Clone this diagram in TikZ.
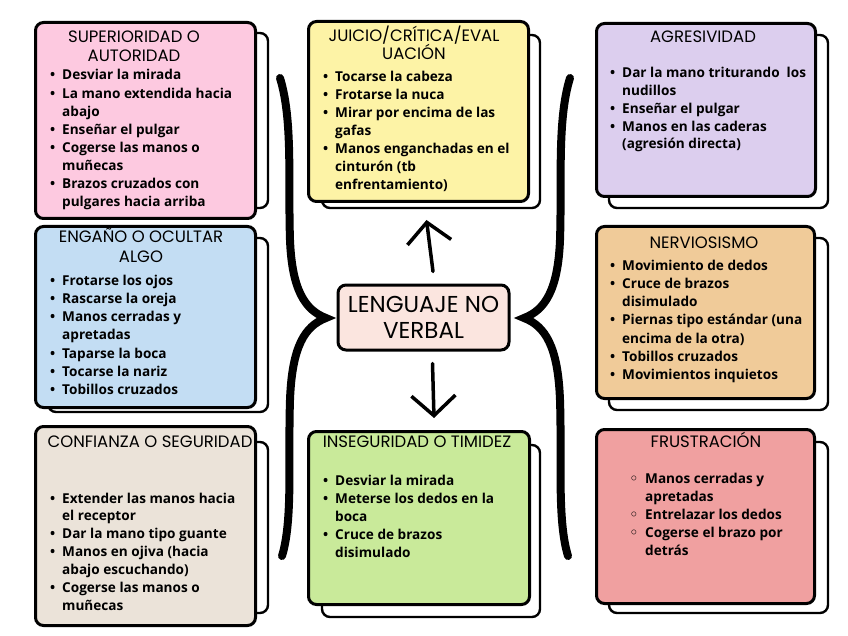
\documentclass[tikz,border=0pt]{standalone}
\usepackage{fontspec}
\setmainfont{Open Sans}
\newfontfamily\headfont{Poppins}
\newfontfamily\symfont{DejaVu Sans}
\usetikzlibrary{arrows.meta,calc}
\definecolor{pinkcard}{HTML}{FDC9E0}
\definecolor{bluecard}{HTML}{C3DDF3}
\definecolor{beigecard}{HTML}{EBE3D9}
\definecolor{yellowcard}{HTML}{FDF3A6}
\definecolor{greencard}{HTML}{C9EA9A}
\definecolor{purplecard}{HTML}{DCCEEE}
\definecolor{orangecard}{HTML}{F0CB99}
\definecolor{redcard}{HTML}{F0A0A0}
\definecolor{centrecard}{HTML}{FBE5DF}
\newcommand{\bul}{\llap{\textbullet\hspace{7pt}}}
\newcommand{\hol}{\llap{{\symfont\char"25E6}\hspace{7pt}}}

\begin{document}
\begin{tikzpicture}[
  x=1pt, y=-1pt,
  card/.style={draw=black, line width=3pt, rounded corners=8pt,
    anchor=north west, inner sep=0pt},
  backcard/.style={draw=black, line width=2.4pt, rounded corners=8pt, fill=white},
  heading/.style={anchor=base, inner sep=0pt,
    font=\headfont\fontsize{16.5}{18}\selectfont},
  itemline/.style={anchor=base west, inner sep=0pt,
    font=\bfseries\fontsize{13.6}{15}\selectfont},
  brace/.style={line width=8pt, line cap=round},
  pointer/.style={line width=3.5pt, line cap=round,
    -{Straight Barb[length=20pt,width=44pt]}}
]
\useasboundingbox (0,0) rectangle (848,636);

% back sheets first, then the coloured cards on top
\draw[backcard] (48,33) rectangle (268,208);
\draw[backcard] (48,238) rectangle (268,412);
\draw[backcard] (48,442) rectangle (268,613);
\draw[backcard] (322,35) rectangle (540,208);
\draw[backcard] (322,445) rectangle (540,617);
\draw[backcard] (609,35) rectangle (828,208);
\draw[backcard] (609,238) rectangle (828,410);
\draw[backcard] (609,442) rectangle (828,613);

\node[card, fill=pinkcard, minimum width=220pt, minimum height=196pt] (superior) at (34,21) {};
\node[card, fill=bluecard, minimum width=220pt, minimum height=181pt] (engano) at (34,225) {};
\node[card, fill=beigecard, minimum width=220pt, minimum height=199pt] (confianza) at (34,425) {};
\node[card, fill=yellowcard, minimum width=220pt, minimum height=180pt] (juicio) at (307,20) {};
\node[card, fill=greencard, minimum width=221pt, minimum height=173pt] (inseguridad) at (307,430) {};
\node[card, fill=purplecard, minimum width=219pt, minimum height=173pt] (agresividad) at (595,22) {};
\node[card, fill=orangecard, minimum width=218pt, minimum height=172pt] (nervios) at (595,225) {};
\node[card, fill=redcard, minimum width=218pt, minimum height=174pt] (frustracion) at (595,428) {};

\node[heading] (superior-h1) at (134,43) {SUPERIORIDAD O};
\node[heading] (superior-h2) at (134,62) {AUTORIDAD};
\node[heading] (engano-h1) at (141,243) {ENGAÑO O OCULTAR};
\node[heading] (engano-h2) at (141,262) {ALGO};
\node[heading] (confianza-h1) at (150,447) {CONFIANZA O SEGURIDAD};
\node[heading] (juicio-h1) at (414,42) {JUICIO/CRÍTICA/EVAL};
\node[heading] (juicio-h2) at (414,60) {UACIÓN};
\node[heading] (inseguridad-h1) at (417,447) {INSEGURIDAD O TIMIDEZ};
\node[heading] (agresividad-h1) at (703,43) {AGRESIVIDAD};
\node[heading] (nervios-h1) at (704,248) {NERVIOSISMO};
\node[heading] (frustracion-h1) at (706,447) {FRUSTRACIÓN};

\foreach \card/\lx/\ly/\dy/\lines in {
  superior/62/80/18.1/{\bul Desviar la mirada, \bul La mano extendida hacia, abajo,
    \bul Enseñar el pulgar, \bul Cogerse las manos o, muñecas,
    \bul Brazos cruzados con, pulgares hacia arriba},
  engano/62/285/18.3/{\bul Frotarse los ojos, \bul Rascarse la oreja,
    \bul Manos cerradas y, apretadas, \bul Taparse la boca,
    \bul Tocarse la nariz, \bul Tobillos cruzados},
  confianza/62/503/17.9/{\bul Extender las manos hacia, el receptor,
    \bul Dar la mano tipo guante, \bul Manos en ojiva (hacia,
    abajo escuchando), \bul Cogerse las manos o, muñecas},
  juicio/335/82/18/{\bul Tocarse la cabeza, \bul Frotarse la nuca,
    \bul Mirar por encima de las, gafas, \bul Manos enganchadas en el,
    cinturón (tb, enfrentamiento)},
  inseguridad/335/485/18/{\bul Desviar la mirada, \bul Meterse los dedos en la,
    boca, \bul Cruce de brazos, disimulado},
  agresividad/622/78/17.7/{\bul Dar la mano triturando\ \ los, nudillos,
    \bul Enseñar el pulgar, \bul Manos en las caderas, (agresión directa)},
  nervios/622/270/18.3/{\bul Movimiento de dedos, \bul Cruce de brazos,
    disimulado, \bul Piernas tipo estándar (una, encima de la otra),
    \bul Tobillos cruzados, \bul Movimientos inquietos},
  frustracion/645/483/18/{\hol Manos cerradas y, apretadas,
    \hol Entrelazar los dedos, \hol Cogerse el brazo por, detrás}} {
  \foreach \txt [count=\i] in \lines {
    \node[itemline] (\card-\i) at (\lx,{\ly+\dy*(\i-1)}) {\txt};
  }
}

\node[draw=black, line width=3pt, rounded corners=8pt, fill=centrecard,
  minimum width=171pt, minimum height=65pt, align=center,
  font=\headfont\fontsize{23}{26}\selectfont] (lenguaje) at (423.5,317.5)
  {LENGUAJE NO\\VERBAL};

\draw[pointer] ([shift={(9.5,-12)}]lenguaje.north) -- ([shift={(8,17)}]juicio.south);
\draw[pointer] ([shift={(9,12)}]lenguaje.south) -- ([shift={(15,-12)}]inseguridad.north);

% the two curly brackets round the centre
\draw[brace] (280,78) .. controls (293,120) and (288,180) .. (290,240)
  .. controls (292,290) and (305,310) .. (326,318)
  .. controls (305,326) and (292,346) .. (290,400)
  .. controls (288,460) and (293,520) .. (282,556);
\draw[brace] (570,78) .. controls (557,120) and (562,180) .. (560,240)
  .. controls (558,290) and (545,310) .. (524,318)
  .. controls (545,326) and (558,346) .. (560,400)
  .. controls (562,460) and (557,520) .. (568,556);
\end{tikzpicture}
\end{document}
